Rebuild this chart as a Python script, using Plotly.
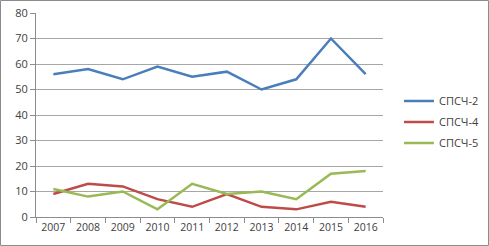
import plotly.graph_objects as go

years = ["2007", "2008", "2009", "2010", "2011", "2012", "2013", "2014", "2015", "2016"]
spsch2 = [56, 58, 54, 59, 55, 57, 50, 54, 70, 56]
spsch4 = [9, 13, 12, 7, 4, 9, 4, 3, 6, 4]
spsch5 = [11, 8, 10, 3, 13, 9, 10, 7, 17, 18]
names = ["СПСЧ-2", "СПСЧ-4", "СПСЧ-5"]
colors = ["#4a7ebb", "#be4b48", "#98b954"]

W, H = 489, 246
ml, mr, mt, mb = 36, 106, 13, 29

fig = go.Figure()
for name, vals, c in zip(names, [spsch2, spsch4, spsch5], colors):
    fig.add_trace(go.Scatter(x=years, y=vals, name=name, mode="lines", legendgroup=name,
                             line=dict(color=c, width=2.5)))

pw = W - ml - mr
ph = H - mt - mb
x0 = (0.5 - ml) / pw
x1 = (W - 0.5 - ml) / pw
y0 = -(mb - 0.5) / ph
y1 = (H - mb - 0.5) / ph

fig.update_layout(
    width=W, height=H,
    margin=dict(l=ml, r=mr, t=mt, b=mb, autoexpand=False),
    paper_bgcolor="white", plot_bgcolor="white",
    font=dict(family="Open Sans, DejaVu Sans, sans-serif", size=11, color="#404040"),
    showlegend=True,
    legend=dict(x=1.046, y=0.466, xanchor="left", yanchor="middle",
                font=dict(size=11, color="#404040"), traceorder="grouped",
                itemwidth=30, tracegroupgap=2, bgcolor="rgba(0,0,0,0)"),
    xaxis=dict(type="category", showgrid=False, showline=True, linecolor="#8c8c8c",
               linewidth=1, ticks="outside", tickson="boundaries", ticklen=5,
               tickcolor="#8c8c8c", range=[-0.5, 9.5], zeroline=False,
               tickangle=0, tickfont=dict(size=10.5)),
    yaxis=dict(range=[0, 80], dtick=10, showgrid=True, gridcolor="#a6a6a6",
               gridwidth=1, showline=True, linecolor="#8c8c8c", ticks="outside",
               ticklen=5, tickcolor="#8c8c8c", zeroline=False,
               tickfont=dict(size=11)),
    shapes=[dict(type="rect", xref="paper", yref="paper", x0=x0, x1=x1, y0=y0, y1=y1,
                 line=dict(color="#8c8c8c", width=1), layer="below")],
)

fig.write_html("out.html", config={"displayModeBar": False},
               post_script="document.body.style.margin='0';document.body.style.overflow='hidden';")
